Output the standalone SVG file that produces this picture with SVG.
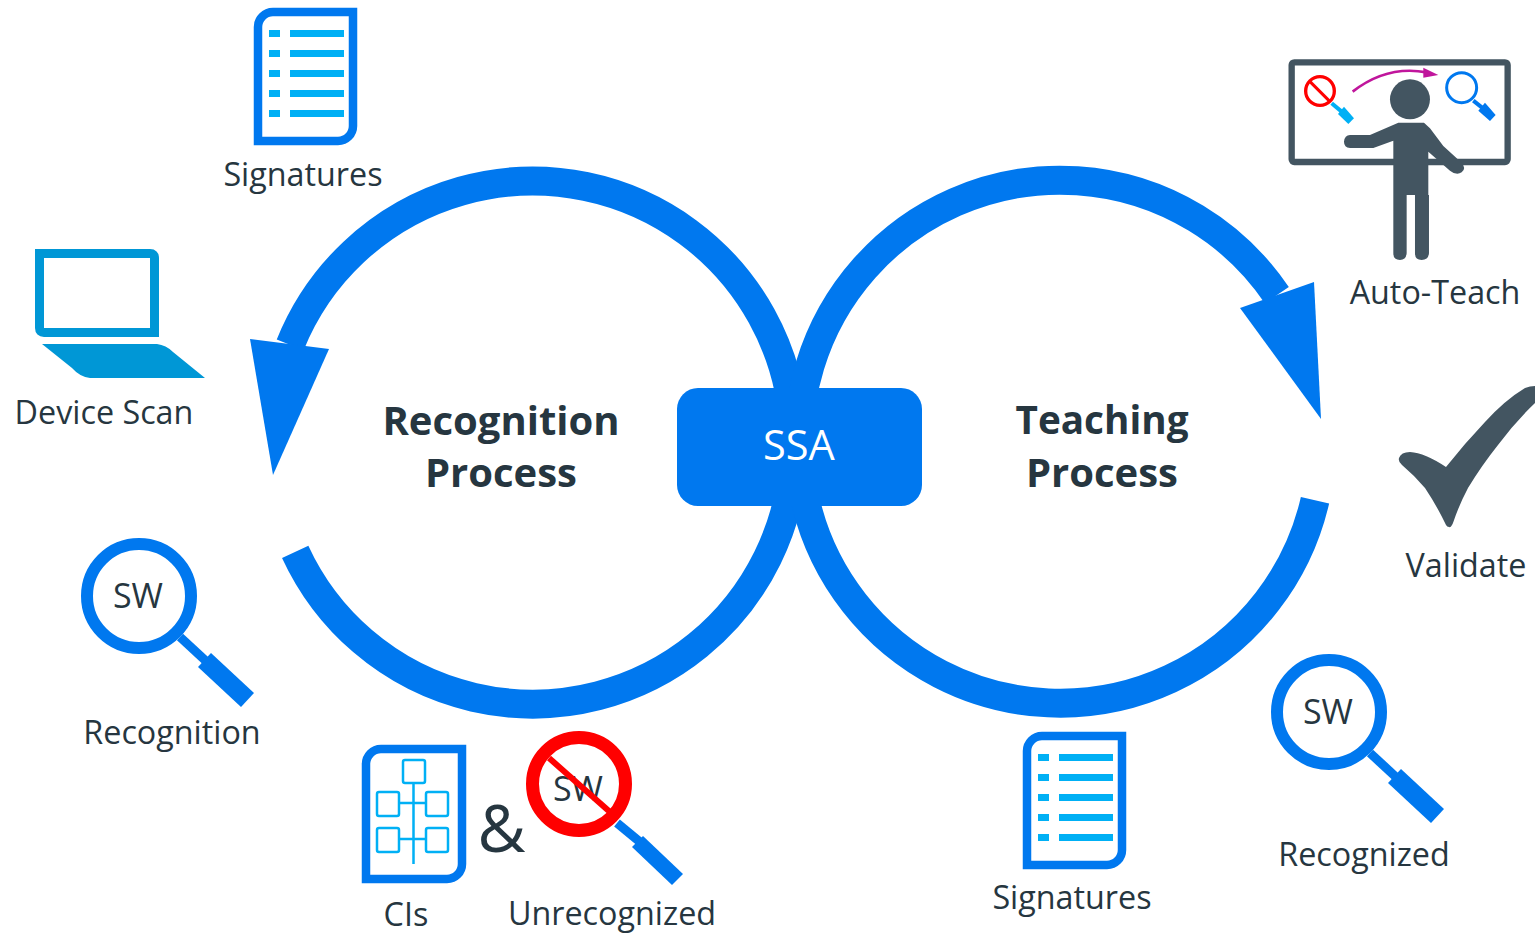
<svg xmlns="http://www.w3.org/2000/svg" width="1535" height="933" viewBox="0 0 1535 933">
<style>
text{font-family:"Open Sans","Noto Sans","Liberation Sans",sans-serif;fill:#263640;text-anchor:middle}
.lbl{font-size:32.300px}
.sw{font-size:34px}
.title{font-size:40px;font-weight:700}
.ring{fill:none;stroke:#0078ef;stroke-width:29}
.blue{fill:#0078ef}
.cy{fill:#00b0f5}
.sq{fill:none;stroke:#00b0f5;stroke-width:2.500}
.dark{fill:#435561}
</style>
<defs>
<g id="doc">
<path d="M258 141V27A15 15 0 0 1 273 12H353V126A15 15 0 0 1 338 141Z" fill="#fff" stroke="#0078ef" stroke-width="8.500"/>
<path class="cy" d="M269 30h11v7h-11zM290 30h54v7h-54zM269 50h11v7h-11zM290 50h54v7h-54zM269 70h11v7h-11zM290 70h54v7h-54zM269 90h11v7h-11zM290 90h54v7h-54zM269 110h11v7h-11zM290 110h54v7h-54z"/>
</g>
<g id="handle">
<path d="M180 637L207 662" fill="none" stroke="#0078ef" stroke-width="9"/>
<path d="M198 667L211 653L254 693L241 707Z" class="blue"/>
</g>
</defs>
<g id="connectors">
<path class="ring" d="M295.200 551.900A261.500 261.500 0 1 0 290.200 344.800"/>
<polygon class="blue" points="250,339 329,349 273,475"/>
<path class="ring" d="M1315 500.300A261.500 261.500 0 1 1 1276.800 295.200"/>
<polygon class="blue" points="1314,282 1240,308 1321,419"/>
</g>
<g id="ssa">
<rect x="677" y="388" width="245" height="118" rx="21" class="blue"/>
<text x="799" y="460" font-size="41.500" style="fill:#fff">SSA</text>
</g>
<g id="recognition-process">
<text class="title" x="501" y="435">Recognition</text>
<text class="title" x="501" y="486.500">Process</text>
</g>
<g id="teaching-process">
<text class="title" x="1102" y="434" textLength="173" lengthAdjust="spacingAndGlyphs">Teaching</text>
<text class="title" x="1102" y="486.500">Process</text>
</g>
<g id="signatures-top">
<use href="#doc"/>
<text class="lbl" x="303" y="185.500">Signatures</text>
</g>
<g id="device-scan">
<path d="M39.500 253.500H150Q154.500 253.500 154.500 258V332.500H44Q39.500 332.500 39.500 328Z" fill="#fff" stroke="#0097d6" stroke-width="9"/>
<path d="M42 344H157Q166 345 173 352L205 378H90Q80 377 72 368Z" fill="#0097d6"/>
<text class="lbl" x="104" y="423.500">Device Scan</text>
</g>
<g id="recognition">
<use href="#handle"/>
<circle cx="139" cy="596" r="52" fill="#fff" stroke="#0078ef" stroke-width="12"/>
<text class="sw" x="138" y="608">SW</text>
<text class="lbl" x="172" y="744">Recognition</text>
</g>
<g id="cis">
<path d="M366 879V764A15 15 0 0 1 381 749H462V864A15 15 0 0 1 447 879Z" fill="#fff" stroke="#0078ef" stroke-width="8.500"/>
<path class="sq" d="M413.500 783V864M399 803H426M399 839H426"/>
<rect class="sq" x="403" y="760" width="22" height="23" rx="2"/>
<rect class="sq" x="377" y="792" width="22" height="24" rx="2"/>
<rect class="sq" x="426" y="792" width="22" height="24" rx="2"/>
<rect class="sq" x="377" y="828" width="22" height="24" rx="2"/>
<rect class="sq" x="426" y="828" width="22" height="24" rx="2"/>
<text class="lbl" x="406" y="926">CIs</text>
</g>
<g id="ampersand">
<text x="501.500" y="852" font-size="66">&amp;</text>
</g>
<g id="unrecognized">
<path d="M617 823L640 842" fill="none" stroke="#0078ef" stroke-width="9"/>
<polygon class="blue" points="632,847 643,836 683,874 672,885"/>
<circle cx="579" cy="784" r="46.500" fill="#fff" stroke="#f00" stroke-width="13"/>
<text class="sw" x="578" y="801">SW</text>
<path d="M549 758L610 812" stroke="#f00" stroke-width="6" fill="none"/>
<text class="lbl" x="612" y="925">Unrecognized</text>
</g>
<g id="signatures-bottom">
<use href="#doc" x="769" y="724"/>
<text class="lbl" x="1072" y="908.500">Signatures</text>
</g>
<g id="recognized">
<use href="#handle" x="1190" y="116"/>
<circle cx="1329" cy="712" r="52" fill="#fff" stroke="#0078ef" stroke-width="12"/>
<text class="sw" x="1328" y="724">SW</text>
<text class="lbl" x="1364" y="865.500">Recognized</text>
</g>
<g id="validate">
<path class="dark" d="M1399 458Q1401 452 1410 452Q1425 453 1446 467Q1465 443 1485 422Q1505 400 1525 388Q1530 386 1535 386V403Q1515 422 1498 445Q1482 465 1468 488Q1459 505 1453 523Q1451 528 1449 527Q1447 527 1446 525Q1437 506 1425 488Q1415 476 1402 465Q1398 462 1399 458Z"/>
<text class="lbl" x="1466" y="576.500">Validate</text>
</g>
<g id="auto-teach">
<g transform="translate(1270 40) scale(.3333)">
<rect x="65" y="67" width="648" height="299" rx="8" fill="#fff" stroke="#435561" stroke-width="19"/>
<circle cx="420" cy="178" r="60" class="dark"/>
<path class="dark" d="M385 248H462L480 265L520 318L575 368Q590 385 575 397Q560 408 540 392L475 335V465H477V640Q475 660 455 660Q435 660 435 640V465H410V640Q408 660 390 660Q370 660 370 640V302L310 324H240Q222 322 222 305Q224 285 240 285H300Z"/>
<path d="M185 190L215 215" stroke="#00b0f5" stroke-width="12" fill="none"/>
<path d="M204 222L222 200L252 235L235 252Z" class="cy"/>
<circle cx="150" cy="153" r="43" fill="#fff" stroke="#f00" stroke-width="10"/>
<path d="M120 125L180 185" stroke="#f00" stroke-width="9" fill="none"/>
<path d="M610 182L640 206" stroke="#0078ef" stroke-width="12" fill="none"/>
<path d="M625 212L645 188L677 225L660 243Z" class="blue"/>
<circle cx="575" cy="143" r="45" fill="#fff" stroke="#0078ef" stroke-width="9"/>
<path d="M248 155Q350 75 470 97" fill="none" stroke="#c0169c" stroke-width="8"/>
<polygon points="460,83 505,105 460,113" fill="#c0169c"/>
</g>
<text class="lbl" x="1435" y="304">Auto-Teach</text>
</g>
</svg>
